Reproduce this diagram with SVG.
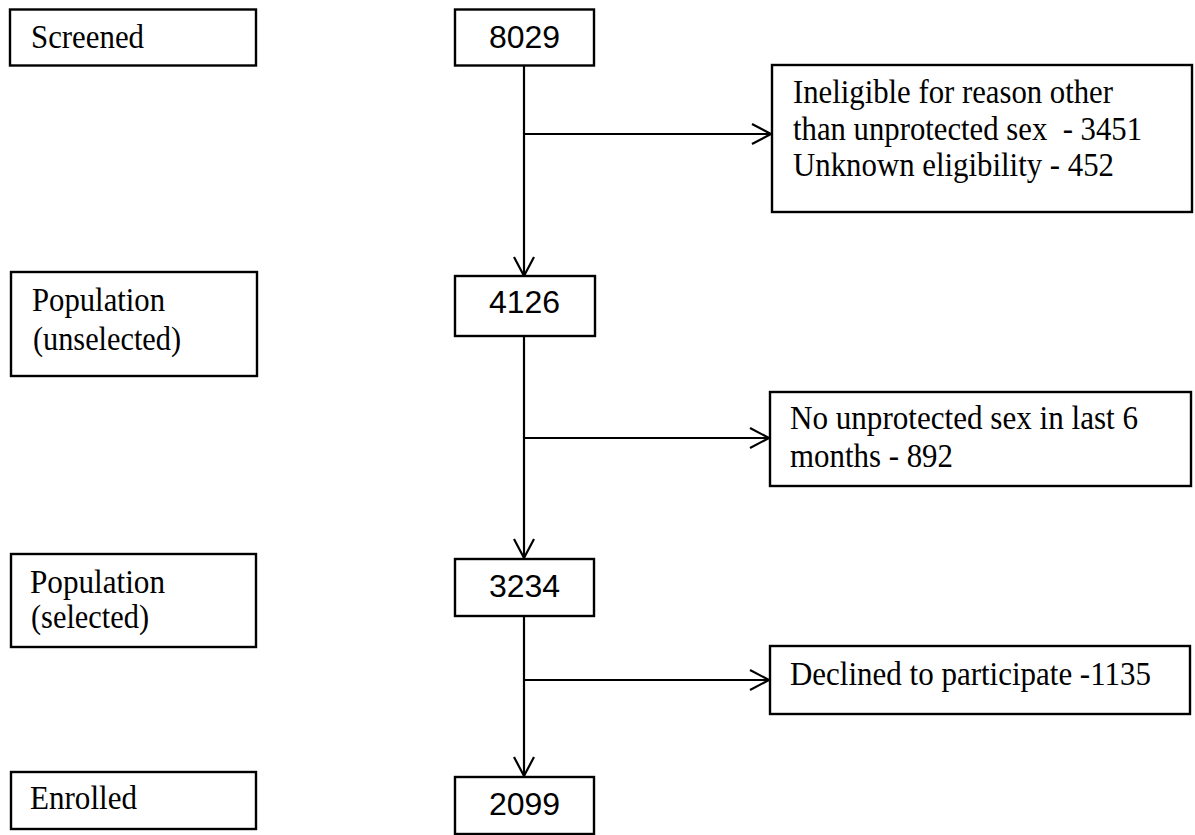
<svg xmlns="http://www.w3.org/2000/svg" width="1195" height="835" viewBox="0 0 1195 835">
<defs>
<style>
.box{fill:#fff;stroke:#000;stroke-width:2.4}
.t{font-family:"Liberation Serif","Times New Roman",serif;font-size:33px;fill:#000}
.n{font-family:"Liberation Sans",Arial,sans-serif;font-size:32px;fill:#000;text-anchor:middle}
.c{stroke:#000;stroke-width:2.2;fill:none}
</style>
<marker id="arr" markerUnits="userSpaceOnUse" viewBox="-22 -12 26 24" refX="0" refY="0" markerWidth="26" markerHeight="24" orient="auto">
<path d="M-19,-10 L0,0 L-19,10" fill="none" stroke="#000" stroke-width="2.2"/>
</marker>
</defs>
<rect width="1195" height="835" fill="#fff"/>
<g id="connectors">
<line class="c" x1="524" y1="66" x2="524" y2="276" marker-end="url(#arr)"/>
<line class="c" x1="524" y1="134" x2="771" y2="134" marker-end="url(#arr)"/>
<line class="c" x1="524" y1="336" x2="524" y2="558" marker-end="url(#arr)"/>
<line class="c" x1="524" y1="438" x2="769" y2="438" marker-end="url(#arr)"/>
<line class="c" x1="524" y1="616" x2="524" y2="776" marker-end="url(#arr)"/>
<line class="c" x1="524" y1="680" x2="769" y2="680" marker-end="url(#arr)"/>
</g>
<g id="screened">
<rect class="box" x="10" y="9.5" width="246" height="56"/>
<text class="t" x="31" y="48" textLength="113" lengthAdjust="spacingAndGlyphs">Screened</text>
</g>
<g id="n8029">
<rect class="box" x="455" y="9.5" width="139" height="56"/>
<text class="n" x="524.5" y="48">8029</text>
</g>
<g id="ineligible">
<rect class="box" x="772" y="65" width="420" height="147"/>
<text class="t" x="793" y="103" textLength="320" lengthAdjust="spacingAndGlyphs">Ineligible for reason other</text>
<text class="t" x="793" y="140" textLength="349" lengthAdjust="spacingAndGlyphs" xml:space="preserve">than unprotected sex  - 3451</text>
<text class="t" x="793" y="176" textLength="321" lengthAdjust="spacingAndGlyphs">Unknown eligibility - 452</text>
</g>
<g id="pop-unselected">
<rect class="box" x="11" y="272" width="246" height="104"/>
<text class="t" x="32" y="311" textLength="133" lengthAdjust="spacingAndGlyphs">Population</text>
<text class="t" x="33" y="350" textLength="148" lengthAdjust="spacingAndGlyphs">(unselected)</text>
</g>
<g id="n4126">
<rect class="box" x="455" y="276" width="140" height="60"/>
<text class="n" x="524.5" y="313">4126</text>
</g>
<g id="no-unprotected">
<rect class="box" x="770" y="392" width="421" height="94"/>
<text class="t" x="790" y="429" textLength="348" lengthAdjust="spacingAndGlyphs">No unprotected sex in last 6</text>
<text class="t" x="790" y="467" textLength="163" lengthAdjust="spacingAndGlyphs">months - 892</text>
</g>
<g id="pop-selected">
<rect class="box" x="11" y="554" width="245" height="93"/>
<text class="t" x="30" y="593" textLength="135" lengthAdjust="spacingAndGlyphs">Population</text>
<text class="t" x="31" y="628" textLength="118" lengthAdjust="spacingAndGlyphs">(selected)</text>
</g>
<g id="n3234">
<rect class="box" x="455" y="559" width="139" height="57"/>
<text class="n" x="524.5" y="597">3234</text>
</g>
<g id="declined">
<rect class="box" x="770" y="646" width="420" height="68"/>
<text class="t" x="790" y="685" textLength="361" lengthAdjust="spacingAndGlyphs">Declined to participate -1135</text>
</g>
<g id="enrolled">
<rect class="box" x="11" y="772" width="245" height="57"/>
<text class="t" x="30" y="809" textLength="107" lengthAdjust="spacingAndGlyphs">Enrolled</text>
</g>
<g id="n2099">
<rect class="box" x="455" y="777" width="139" height="57"/>
<text class="n" x="524.5" y="815">2099</text>
</g>
</svg>
